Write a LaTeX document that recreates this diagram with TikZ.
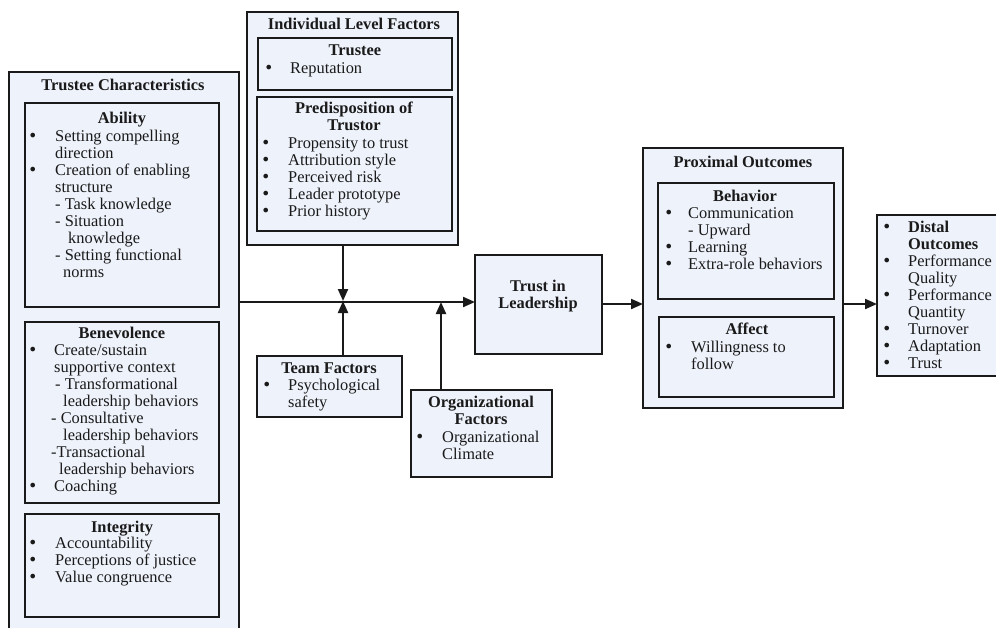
\documentclass[tikz,border=0pt]{standalone}
\usepackage{fontspec}
\setmainfont{Liberation Serif}
\newfontfamily\bulfont{DejaVu Sans}
\usetikzlibrary{arrows.meta}
\definecolor{boxfill}{HTML}{EEF2FB}
\definecolor{ink}{HTML}{1A1A1A}
% list bullet, a little heavier than the serif one
\newcommand\bul{{\bulfont\fontsize{16}{17}\selectfont •}}

\begin{document}
\begin{tikzpicture}[x=1pt,y=-1pt,
  box/.style={draw=ink, line width=2.1pt, fill=boxfill, anchor=north west,
    inner sep=0pt, outer sep=0pt},
  ttl/.style={anchor=base, inner sep=0pt,
    font=\fontsize{16.4}{17}\selectfont\bfseries, text=ink},
  lst/.style={anchor=base west, inner sep=0pt,
    font=\fontsize{16.4}{17}\selectfont, text=ink},
  link/.style={draw=ink, line width=2.1pt, -{Triangle[length=12pt,width=10pt]}}]

\useasboundingbox (0,0) rectangle (996,627);
\fill[white] (0,0) rectangle (996,627);
\clip (0,0) rectangle (996,627);

% ---------- Trustee characteristics ----------
\node[box, minimum width=230pt, minimum height=570pt] (tc) at (9,72) {};
\node[box, minimum width=194pt, minimum height=204pt] (abil) at (25,103) {};
\node[box, minimum width=194pt, minimum height=181pt] (bene) at (25,322) {};
\node[box, minimum width=194pt, minimum height=103pt] (integ) at (25,514) {};

\node[ttl] (tct) at (123,90) {Trustee Characteristics};
\node[ttl] (abilt) at (122,123) {Ability};
\node[lst] (abill) at (28,141) {\begin{tabular}[t]{@{}p{27pt}@{}l@{}}
\bul & Setting compelling\\
 & direction\\
\bul & Creation of enabling\\
 & structure\\
 & - Task knowledge\\
 & - Situation\\
 & \hspace*{13pt}knowledge\\
 & - Setting functional\\
 & \hspace*{8pt}norms
\end{tabular}};

\node[ttl] (benet) at (122,338) {Benevolence};
\node[lst] (benel) at (28,355) {\begin{tabular}[t]{@{}p{26pt}@{}l@{}}
\bul & Create/sustain\\
 & supportive context\\
 & \hspace*{1pt}- Transformational\\
 & \hspace*{9pt}leadership behaviors\\
 & \hspace*{-3pt}- Consultative\\
 & \hspace*{9pt}leadership behaviors\\
 & \hspace*{-3pt}-Transactional\\
 & \hspace*{5pt}leadership behaviors\\
\bul & Coaching
\end{tabular}};

\node[ttl] (integt) at (122,532) {Integrity};
\node[lst] (integl) at (28,548) {\begin{tabular}[t]{@{}p{27pt}@{}l@{}}
\bul & Accountability\\
\bul & Perceptions of justice\\
\bul & Value congruence
\end{tabular}};

% ---------- Individual level factors ----------
\node[box, minimum width=211pt, minimum height=233pt] (ilf) at (247,12) {};
\node[box, minimum width=194pt, minimum height=52pt] (trustee) at (258,38) {};
\node[box, minimum width=195pt, minimum height=134pt] (predis) at (257,97) {};

\node[ttl] (ilft) at (354,29) {Individual Level Factors};
\node[ttl] (trusteet) at (355,55) {Trustee};
\node[lst] (trusteel) at (264,73) {\begin{tabular}[t]{@{}p{26pt}@{}l@{}}
\bul & Reputation
\end{tabular}};
\node[ttl] (predist) at (354,113) {\begin{tabular}[t]{@{}c@{}}Predisposition of\\Trustor\end{tabular}};
\node[lst] (predisl) at (261,148) {\begin{tabular}[t]{@{}p{27pt}@{}l@{}}
\bul & Propensity to trust\\
\bul & Attribution style\\
\bul & Perceived risk\\
\bul & Leader prototype\\
\bul & Prior history
\end{tabular}};

% ---------- Team and organizational factors ----------
\node[box, minimum width=145pt, minimum height=61pt] (team) at (257,356) {};
\node[ttl] (teamt) at (329,373) {Team Factors};
\node[lst] (teaml) at (262,390) {\begin{tabular}[t]{@{}p{26pt}@{}l@{}}
\bul & Psychological\\
 & safety
\end{tabular}};

\node[box, minimum width=141pt, minimum height=87pt] (org) at (411,390) {};
\node[ttl] (orgt) at (481,407) {\begin{tabular}[t]{@{}c@{}}Organizational\\Factors\end{tabular}};
\node[lst] (orgl) at (415,442) {\begin{tabular}[t]{@{}p{27pt}@{}l@{}}
\bul & Organizational\\
 & Climate
\end{tabular}};

% ---------- Trust in leadership ----------
\node[box, minimum width=127pt, minimum height=99pt] (trust) at (475,255) {};
\node[ttl] (trustt) at (538,291) {\begin{tabular}[t]{@{}c@{}}Trust in\\Leadership\end{tabular}};

% ---------- Proximal outcomes ----------
\node[box, minimum width=200pt, minimum height=260pt] (prox) at (643,148) {};
\node[box, minimum width=176pt, minimum height=116pt] (behav) at (658,183) {};
\node[box, minimum width=175pt, minimum height=80pt] (affect) at (659,317) {};

\node[ttl] (proxt) at (743,167) {Proximal Outcomes};
\node[ttl] (behavt) at (745,201) {Behavior};
\node[lst] (behavl) at (664,218) {\begin{tabular}[t]{@{}p{24pt}@{}l@{}}
\bul & Communication\\
 & - Upward\\
\bul & Learning\\
\bul & Extra-role behaviors
\end{tabular}};
\node[ttl] (affectt) at (747,334) {Affect};
\node[lst] (affectl) at (664,352) {\begin{tabular}[t]{@{}p{27pt}@{}l@{}}
\bul & Willingness to\\
 & follow
\end{tabular}};

% ---------- Distal outcomes ----------
\node[box, minimum width=133pt, minimum height=161pt] (distal) at (877,215) {};
\node[lst] (distall) at (882,232) {\begin{tabular}[t]{@{}p{26pt}@{}l@{}}
\bul & \textbf{Distal}\\
 & \textbf{Outcomes}\\
\bul & Performance\\
 & Quality\\
\bul & Performance\\
 & Quantity\\
\bul & Turnover\\
\bul & Adaptation\\
\bul & Trust
\end{tabular}};

% ---------- Connectors ----------
\coordinate (j1) at (343,302);
\coordinate (j2) at (441,302);
\coordinate (j3) at (843,304);

\draw[link] (tc.east |- j1) -- (trust.west |- j1);
\draw[link, shorten >=1pt] (j1 |- ilf.south) -- (j1);
\draw[link, shorten >=-1pt] (j1 |- team.north) -- (j1);
\draw[link] (j2 |- org.north) -- (j2);
\draw[link] (trust.east |- j3) -- (prox.west |- j3);
\draw[link] (prox.east |- j3) -- (distal.west |- j3);

\end{tikzpicture}
\end{document}
